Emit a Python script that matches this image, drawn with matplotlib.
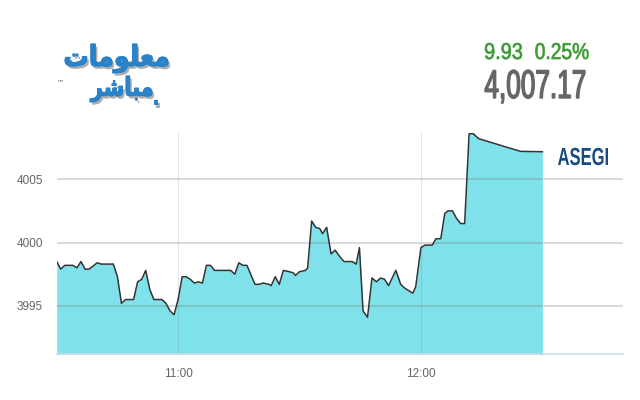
import matplotlib

matplotlib.use("Agg")
import matplotlib.pyplot as plt
import matplotlib.patheffects as pe
from matplotlib.font_manager import FontProperties
from matplotlib.patches import PathPatch
from matplotlib.textpath import TextPath
from matplotlib.transforms import Affine2D

# minutes after 10:30 and index level
minutes = [0, 1, 2, 4, 5, 6, 7, 8, 10, 11, 14, 15, 16, 17, 19, 20, 21, 22, 23, 24,
           26, 27, 28, 29, 30, 31, 32, 33, 34, 35, 36, 37, 38, 39, 43, 44, 45, 46, 47, 49,
           50, 51, 52.5, 53, 54, 55, 56, 57.5, 58.5, 59, 60, 61.5, 62, 63, 64, 65, 65.7,
           66.7, 67.8, 68.8, 69.8, 71, 73, 74, 74.8, 75.7, 76.8, 77.9, 79, 80, 81, 82,
           83.8, 85, 86, 88, 88.7, 90, 91, 92.8, 93.7, 94.9, 95.9, 96.7, 97.8, 98.8,
           99.8, 100.8, 101.9, 102.9, 104.3, 114.6, 120]
values = [3998.5, 3997.9, 3998.2, 3998.2, 3998.0, 3998.5, 3997.9, 3997.9, 3998.4, 3998.3,
          3998.3, 3997.3, 3995.2, 3995.5, 3995.5, 3996.9, 3997.1, 3997.8, 3996.3, 3995.5,
          3995.5, 3995.2, 3994.6, 3994.3, 3995.5, 3997.3, 3997.3, 3997.1, 3996.8, 3996.9,
          3996.8, 3998.2, 3998.2, 3997.8, 3997.8, 3997.5, 3998.4, 3998.2, 3998.2, 3996.7,
          3996.7, 3996.8, 3996.7, 3996.6, 3997.3, 3996.7, 3997.8, 3997.7, 3997.6, 3997.4,
          3997.7, 3997.8, 3998.0, 4001.7, 4001.2, 4001.1, 4000.7, 4001.2, 3999.1, 3999.4,
          3998.95, 3998.5, 3998.5, 3998.3, 3999.6, 3994.6, 3994.1, 3997.2, 3996.9, 3997.2,
          3997.1, 3996.6, 3997.8, 3996.7, 3996.4, 3996.0, 3996.5, 3999.6, 3999.8, 3999.8,
          4000.3, 4000.3, 4002.3, 4002.5, 4002.5, 4001.9, 4001.5, 4001.5, 4008.6, 4008.6,
          4008.2, 4007.2, 4007.17]
y_ticks = [3995, 4000, 4005]
x_ticks = [30, 90]
x_labels = ["11:00", "12:00"]

index_name = "ASEGI"
last_value = "4,007.17"
change_points = "9.93"
change_pct = "0.25%"
# logo words, Arabic presentation forms in visual (left-to-right) order
logo_top = "\ufe95\ufe8e\ufee3\ufeee\ufee0\ufecc\ufee3"
logo_bottom = "\ufeae\ufeb7\ufe8e\ufe92\ufee3"

W, H = 640, 400


def squeezed_text(fig, s, x0, x1, top, base, color, ref="0", weight="normal",
                  family="Liberation Sans", stroke=0.0, effects=None):
    """Draw text scaled to fit a pixel box (y measured from the top).
    With ref=None the whole ink box is fitted between top and base."""
    prop = FontProperties(family=family, weight=weight)
    path = TextPath((0, 0), s, size=100, prop=prop)
    ext = path.get_extents()
    if ref is None:
        y0, ref_h = ext.y0, ext.height
    else:
        y0 = 0
        ref_h = TextPath((0, 0), ref, size=100, prop=prop).get_extents().y1
    sx = (x1 - x0) / ext.width
    sy = (base - top) / ref_h
    tr = Affine2D().translate(-ext.x0, -y0).scale(sx, sy).translate(x0, H - base)
    patch = PathPatch(path, transform=tr, facecolor=color, edgecolor=color, lw=stroke)
    if effects:
        patch.set_path_effects(effects)
    fig.add_artist(patch)


fig = plt.figure(figsize=(W / 100, H / 100), dpi=100)
ax = fig.add_axes([56.7 / W, 46 / H, 566.6 / W, 221 / H])

ax.fill_between(minutes, values, 3985, color="#7fe1ea", lw=0, zorder=1)
ax.plot(minutes, values, color="#333333", lw=1.1, zorder=3)

ax.set_xlim(0, 140)
ax.set_ylim(3991.2, 4008.65)
ax.set_yticks(y_ticks)
ax.set_xticks(x_ticks)
ax.set_xticklabels(x_labels)
ax.set_axisbelow(False)
ax.grid(axis="y", color="#808080", alpha=0.35, lw=1.2)
ax.grid(axis="x", color="#808080", alpha=0.2, lw=0.8)
for side in ["top", "right", "left"]:
    ax.spines[side].set_visible(False)
ax.spines["bottom"].set_color("#c9dbe8")
ax.spines["bottom"].set_linewidth(1.2)
ax.tick_params(length=0, colors="#666666", labelsize=8.5, pad=10)
for lbl in ax.get_xticklabels() + ax.get_yticklabels():
    lbl.set_family("Liberation Sans")

squeezed_text(fig, index_name, 558, 608, 148, 165, "#174a80", ref="H", weight="bold")
squeezed_text(fig, change_points, 485, 522, 43, 59, "#3c9a34", stroke=0.5)
squeezed_text(fig, change_pct, 535.5, 588.5, 43, 59, "#3c9a34", stroke=0.5)
squeezed_text(fig, last_value, 485, 585, 70, 98, "#666666", stroke=1.0)

shadow = [pe.withSimplePatchShadow(offset=(1.5, -2), shadow_rgbFace="#777777", alpha=0.6),
          pe.Normal()]
squeezed_text(fig, logo_top, 65, 168, 44, 73, "#2a82c8", ref=None, weight="bold",
              family="DejaVu Sans", stroke=0.6, effects=shadow)
squeezed_text(fig, logo_bottom, 90, 152, 76, 102, "#2a82c8", ref=None, weight="bold",
              family="DejaVu Sans", stroke=0.6, effects=shadow)
fig.text(156 / W, 1 - 97 / H, ".", color="#2a82c8", fontsize=20, fontweight="bold",
         ha="center", va="center", path_effects=shadow)
fig.text(61 / W, 1 - 82 / H, "\u2122", color="#555555", fontsize=5, ha="center",
         va="center")

fig.savefig("out.png", dpi=100)
plt.close(fig)
